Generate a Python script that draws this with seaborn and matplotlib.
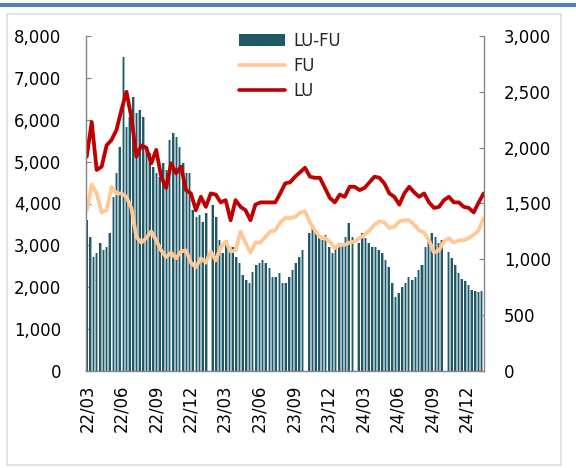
import matplotlib.pyplot as plt
import matplotlib.dates as mdates
from matplotlib.lines import Line2D
from matplotlib.patches import Patch, Rectangle
from matplotlib.ticker import FuncFormatter, MultipleLocator
import pandas as pd
import seaborn as sns

# LU-FU spread, left axis, sampled about every 9 days (0 = holiday gap)
spread = [3600, 3200, 2720, 2820, 3050, 2890, 2960, 3300, 4150, 4730,
          5350, 7500, 5820, 6060, 6540, 6150, 6230, 6060, 5350, 5200,
          4870, 4730, 4630, 4960, 4800, 5510, 5680, 5590, 5350, 4960,
          4730, 4730, 3840, 3680, 3720, 3560, 3770, 0, 3960, 3680,
          3130, 2820, 3130, 2890, 2960, 2720, 2580, 2290, 2170, 2100,
          2360, 2530, 2580, 2650, 2580, 2460, 2240, 2240, 2340, 2100,
          2100, 2240, 2410, 2580, 2720, 2890, 0, 3290, 3440, 3320,
          3200, 3130, 3250, 2960, 2820, 2960, 3050, 3050, 3200, 3530,
          3200, 0, 3050, 3290, 3170, 3050, 2960, 2960, 2890, 2820,
          2650, 2480, 2100, 1770, 1860, 2000, 2100, 2240, 2170, 2240,
          2410, 2530, 2960, 3130, 3290, 3200, 3050, 3130, 0, 2830,
          2700, 2530, 2330, 2200, 2140, 2050, 1930, 1900, 1890, 1900]
spread_start, spread_end = '2022-03-01', '2025-01-10'

# FU and LU prices, right axis, sampled about every 13 days
fu = [1440, 1670, 1590, 1420, 1440, 1650, 1590, 1590, 1560, 1460,
      1200, 1150, 1190, 1250, 1170, 1080, 1020, 1060, 1010, 1070,
      1080, 970, 930, 1010, 970, 1070, 990, 1110, 1160, 1070,
      1080, 1250, 1150, 1060, 1150, 1150, 1200, 1250, 1260, 1330,
      1370, 1370, 1380, 1420, 1430, 1330, 1260, 1200, 1190, 1160,
      1100, 1130, 1130, 1150, 1160, 1190, 1220, 1260, 1310, 1340,
      1330, 1280, 1290, 1340, 1350, 1350, 1310, 1260, 1240, 1170,
      1060, 1080, 1160, 1190, 1150, 1170, 1170, 1190, 1220, 1260,
      1370]
lu = [1920, 2230, 1800, 1830, 2020, 2070, 2160, 2340, 2500, 2270,
      1920, 2020, 2000, 1860, 1980, 1740, 1640, 1860, 1770, 1830,
      1620, 1590, 1440, 1560, 1470, 1590, 1580, 1510, 1530, 1350,
      1530, 1470, 1440, 1350, 1490, 1510, 1510, 1510, 1510, 1590,
      1680, 1690, 1740, 1780, 1820, 1740, 1730, 1730, 1640, 1550,
      1510, 1580, 1560, 1650, 1650, 1620, 1640, 1690, 1740, 1730,
      1680, 1590, 1560, 1490, 1590, 1650, 1600, 1560, 1590, 1510,
      1460, 1470, 1530, 1560, 1510, 1510, 1470, 1460, 1420, 1510,
      1590]
price_start, price_end = '2022-03-01', '2025-01-15'

x_start, x_end = '2022-02-27', '2025-01-16'
tick_start, tick_end = '2022-03-01', '2024-12-01'

c_bar = '#215967'
c_bar_light = '#9DBAC2'
c_fu = '#FFC894'
c_lu = '#C00000'
c_axis = '#868686'

sns.set_style('white')
plt.rcParams['font.family'] = ['DejaVu Sans']
plt.rcParams['font.size'] = 16.5

spread_dates = pd.date_range(spread_start, spread_end, periods=len(spread))
price_dates = pd.date_range(price_start, price_end, periods=len(lu))
step = (spread_dates[1] - spread_dates[0]).days

fig = plt.figure(figsize=(8, 6.5), dpi=72)
ax = fig.add_axes([86 / 576, 1 - 371 / 468, 398 / 576, 335 / 468])
ax2 = ax.twinx()

# thin daily bars in the source blend into light/dark teal stripes
ax.bar(spread_dates, spread, width=step, color=c_bar_light,
       linewidth=0, zorder=2)
ax.bar(spread_dates, spread, width=step * 0.5, color=c_bar,
       linewidth=0, zorder=3)

sns.lineplot(x=price_dates, y=fu, ax=ax2, color=c_fu, linewidth=3.8)
sns.lineplot(x=price_dates, y=lu, ax=ax2, color=c_lu, linewidth=3.8)

ax.set_xlim(pd.Timestamp(x_start), pd.Timestamp(x_end))
ax.set_ylim(0, 8000)
ax2.set_ylim(0, 3000)
ax.yaxis.set_major_locator(MultipleLocator(1000))
ax2.yaxis.set_major_locator(MultipleLocator(500))
fmt = FuncFormatter(lambda v, p: f'{v:,.0f}')
ax.yaxis.set_major_formatter(fmt)
ax2.yaxis.set_major_formatter(fmt)

ax.set_xticks(pd.date_range(tick_start, tick_end, freq='3MS'))
ax.xaxis.set_major_formatter(mdates.DateFormatter('%y/%m'))
for lbl in ax.get_xticklabels():
    lbl.set_rotation(90)

ax.set_xlabel('')
ax.set_ylabel('')
ax2.set_xlabel('')
ax2.set_ylabel('')

for a in (ax, ax2):
    for side in ('left', 'right', 'bottom'):
        a.spines[side].set_color(c_axis)
        a.spines[side].set_linewidth(1.2)
    a.spines['top'].set_visible(False)
    a.tick_params(direction='in', length=5, width=1.2, color=c_axis,
                  labelcolor='black', labelsize=16.5)
ax.tick_params(axis='y', pad=25)
ax.tick_params(axis='x', pad=14)
ax2.tick_params(axis='y', pad=20)
ax.grid(False)
ax2.grid(False)

handles = [Patch(facecolor=c_bar, edgecolor='none'),
           Line2D([], [], color=c_fu, linewidth=3.6),
           Line2D([], [], color=c_lu, linewidth=3.6)]
fig.legend(handles, ['LU-FU', 'FU', 'LU'], loc='upper left',
           bbox_to_anchor=(239 / 576, 1 - 32 / 468), frameon=False,
           borderpad=0, borderaxespad=0, handlelength=2.8,
           handletextpad=0.5, labelspacing=0.42, fontsize=16.5)

# outer frame like the source report
fig.add_artist(Line2D([0, 1], [1 - 5 / 468, 1 - 5 / 468], color='#4F81BD',
                      linewidth=4, transform=fig.transFigure))
fig.add_artist(Rectangle((7 / 576, 3 / 468), 554 / 576, 451 / 468,
                         fill=False, edgecolor='#D9D9D9', linewidth=1.5,
                         transform=fig.transFigure))

fig.savefig('out.png', dpi=72)
